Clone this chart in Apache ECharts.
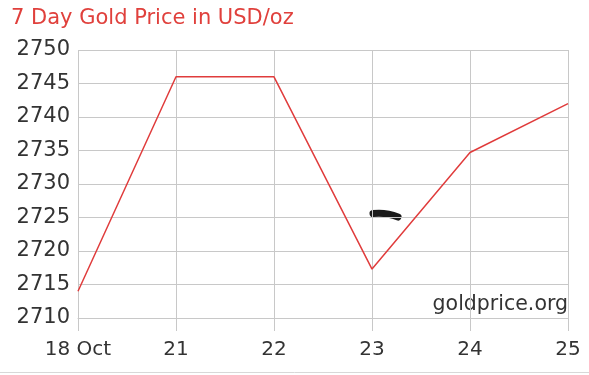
<!DOCTYPE html>
<html><head><meta charset="utf-8">
<script src="https://cdn.jsdelivr.net/npm/echarts@6/dist/echarts.min.js"></script>
<style>html,body{margin:0;padding:0;background:#fff}#c{width:589px;height:375px}</style>
</head><body><div id="c"></div>
<script>
const categories = ['18 Oct', '21', '22', '23', '24', '25'];
const prices = [2714, 2746, 2746, 2717.3, 2734.7, 2742];
const yMin = 2710, yMax = 2750, yStep = 5;

const chart = echarts.init(document.getElementById('c'));
const font = 'DejaVu Sans';
chart.setOption({
  animation: false,
  backgroundColor: '#fff',
  title: {
    text: '7 Day Gold Price in USD/oz',
    left: 6, top: 3,
    textStyle: { color: '#e0403c', fontSize: 21, fontWeight: 'normal', fontFamily: font }
  },
  grid: { left: 78, right: 21, top: 50, bottom: 57, containLabel: false },
  xAxis: {
    type: 'category', data: categories, boundaryGap: false,
    axisLine: { show: true, lineStyle: { color: '#c8c8c8', width: 1 } },
    axisTick: { show: true, length: 13, lineStyle: { color: '#c8c8c8' } },
    splitLine: { show: true, lineStyle: { color: '#c8c8c8', width: 1 } },
    axisLabel: { color: '#333', fontSize: 20, fontFamily: font, margin: 22, interval: 0 }
  },
  yAxis: {
    type: 'value', min: yMin, max: yMax, interval: yStep,
    axisLine: { show: false }, axisTick: { show: false },
    splitLine: { show: true, lineStyle: { color: '#c8c8c8', width: 1 } },
    axisLabel: { color: '#333', fontSize: 21, fontFamily: font, margin: 8,
      formatter: v => String(v) }
  },
  series: [{
    type: 'line', data: prices, symbol: 'none',
    lineStyle: { color: '#e03c3c', width: 1.5 }
  }],
  graphic: [
    { type: 'text', right: 21, top: 294,
      style: { text: 'goldprice.org', fill: '#333', font: '20.5px "DejaVu Sans"' } },
    { type: 'line', shape: { x1: 0, y1: 372.5, x2: 589, y2: 372.5 },
      style: { stroke: '#d8d8d8', lineWidth: 1 } },
    { type: 'bezierCurve', shape: { x1: 373, y1: 213.5, cpx1: 386, cpy1: 212, x2: 398, y2: 217 },
      style: { stroke: '#1a1a1a', lineWidth: 7, lineCap: 'round', fill: 'none' } }
  ]
});
</script></body></html>
